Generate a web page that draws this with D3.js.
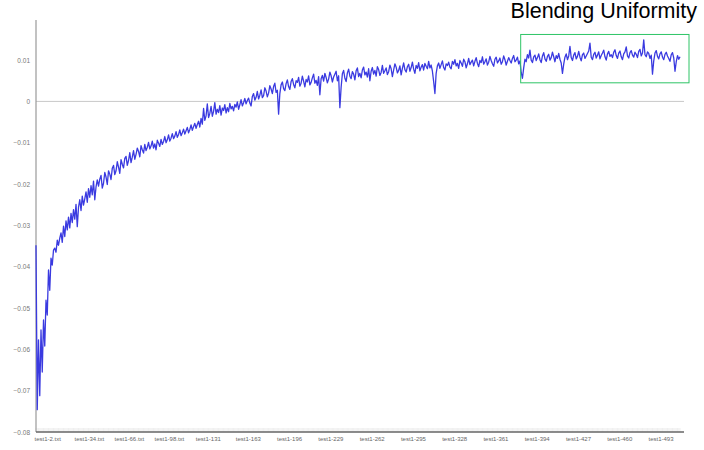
<!DOCTYPE html>
<html>
<head>
<meta charset="utf-8">
<script src="https://cdn.jsdelivr.net/npm/d3@7"></script>
<style>
body { margin:0; background:#fff; }
svg { font-family: Arial, "Liberation Sans", sans-serif; }
</style>
</head>
<body>
<svg id="svg" width="704" height="450"></svg>
<script>
// blending uniformity per test file (test1-2 ... test1-517)
var uniformity = [
-0.0348,-0.0746,-0.0577,-0.0712,-0.0553,-0.0655,-0.0529,-0.0592,-0.0481,-0.0517,
-0.0408,-0.0457,-0.0379,-0.0396,-0.0360,-0.0355,-0.0365,-0.0336,-0.0348,-0.0331,
-0.0318,-0.0341,-0.0302,-0.0327,-0.0289,-0.0311,-0.0280,-0.0306,-0.0271,-0.0293,
-0.0262,-0.0285,-0.0249,-0.0303,-0.0256,-0.0238,-0.0264,-0.0229,-0.0251,-0.0236,
-0.0219,-0.0244,-0.0211,-0.0232,-0.0204,-0.0226,-0.0193,-0.0238,-0.0207,-0.0190,
-0.0205,-0.0188,-0.0179,-0.0210,-0.0198,-0.0172,-0.0183,-0.0201,-0.0168,-0.0176,
-0.0189,-0.0162,-0.0155,-0.0177,-0.0168,-0.0146,-0.0159,-0.0174,-0.0141,-0.0152,
-0.0161,-0.0138,-0.0133,-0.0155,-0.0143,-0.0124,-0.0148,-0.0135,-0.0119,-0.0140,
-0.0128,-0.0113,-0.0121,-0.0134,-0.0107,-0.0117,-0.0125,-0.0104,-0.0119,-0.0111,
-0.0099,-0.0115,-0.0108,-0.0096,-0.0113,-0.0103,-0.0117,-0.0094,-0.0101,-0.0109,
-0.0092,-0.0104,-0.0097,-0.0085,-0.0100,-0.0093,-0.0081,-0.0096,-0.0089,-0.0078,
-0.0090,-0.0084,-0.0073,-0.0087,-0.0080,-0.0069,-0.0083,-0.0076,-0.0067,-0.0079,
-0.0071,-0.0063,-0.0076,-0.0068,-0.0057,-0.0070,-0.0061,-0.0053,-0.0065,-0.0056,
-0.0048,-0.0062,-0.0041,-0.0055,-0.0017,-0.0046,-0.0035,-0.0006,-0.0039,-0.0029,
-0.0012,-0.0036,-0.0024,-0.0003,-0.0031,-0.0019,-0.0027,-0.0010,-0.0033,-0.0016,
-0.0022,-0.0008,-0.0028,-0.0015,-0.0025,-0.0005,-0.0018,-0.0012,-0.0023,-0.0007,
-0.0014,-0.0001,-0.0019,-0.0008,0.0004,-0.0011,-0.0003,0.0007,-0.0006,0.0002,
0.0008,-0.0004,-0.0011,0.0012,0.0019,0.0003,0.0010,0.0024,0.0006,0.0015,
0.0028,0.0009,0.0014,0.0033,0.0025,0.0011,0.0020,0.0038,0.0030,0.0019,
0.0036,0.0044,0.0022,0.0027,-0.0031,0.0019,0.0040,0.0047,0.0031,0.0026,
0.0043,0.0052,0.0036,0.0029,0.0048,0.0055,0.0041,0.0033,0.0050,0.0046,
0.0058,0.0037,0.0044,0.0061,0.0049,0.0035,0.0053,0.0047,0.0062,0.0040,
0.0046,0.0057,0.0066,0.0044,0.0051,0.0039,0.0060,0.0016,0.0055,0.0063,
0.0049,0.0068,0.0058,0.0045,0.0054,0.0071,0.0062,0.0047,0.0059,0.0066,
0.0073,0.0050,0.0062,-0.0015,0.0034,0.0067,0.0075,0.0056,0.0048,0.0069,
0.0078,0.0061,0.0055,0.0072,0.0066,0.0052,0.0074,0.0081,0.0060,0.0068,
0.0057,0.0076,0.0083,0.0064,0.0071,0.0059,0.0079,0.0050,0.0073,0.0082,
0.0066,0.0075,0.0061,0.0084,0.0077,0.0063,0.0070,0.0087,0.0068,0.0074,
0.0081,0.0065,0.0072,0.0088,0.0079,0.0060,0.0076,0.0091,0.0083,0.0069,
0.0075,0.0086,0.0064,0.0080,0.0093,0.0077,0.0071,0.0084,0.0090,0.0073,
0.0082,0.0095,0.0078,0.0068,0.0087,0.0080,0.0094,0.0074,0.0083,0.0089,
0.0076,0.0092,0.0085,0.0079,0.0097,0.0081,0.0088,0.0073,0.0048,0.0019,
0.0068,0.0086,0.0093,0.0080,0.0089,0.0098,0.0082,0.0076,0.0091,0.0087,
0.0095,0.0083,0.0079,0.0097,0.0090,0.0101,0.0086,0.0092,0.0080,0.0099,
0.0093,0.0085,0.0102,0.0096,0.0081,0.0091,0.0104,0.0089,0.0095,0.0100,
0.0086,0.0097,0.0106,0.0092,0.0084,0.0099,0.0094,0.0108,0.0090,0.0096,
0.0103,0.0088,0.0095,0.0109,0.0099,0.0091,0.0085,0.0102,0.0107,0.0093,
0.0098,0.0105,0.0090,0.0096,0.0110,0.0101,0.0088,0.0097,0.0106,0.0099,
0.0093,0.0104,0.0111,0.0096,0.0100,0.0107,0.0091,0.0098,0.0070,0.0056,
0.0081,0.0102,0.0096,0.0113,0.0105,0.0124,0.0100,0.0094,0.0108,0.0112,
0.0099,0.0106,0.0115,0.0101,0.0094,0.0110,0.0118,0.0103,0.0097,0.0109,
0.0114,0.0100,0.0106,0.0119,0.0108,0.0096,0.0111,0.0104,0.0116,0.0102,
0.0093,0.0068,0.0090,0.0107,0.0115,0.0101,0.0110,0.0133,0.0106,0.0099,
0.0112,0.0118,0.0103,0.0109,0.0121,0.0107,0.0098,0.0113,0.0117,0.0104,
0.0110,0.0116,0.0122,0.0141,0.0107,0.0101,0.0114,0.0119,0.0105,0.0112,
0.0120,0.0103,0.0111,0.0117,0.0124,0.0108,0.0100,0.0115,0.0121,0.0109,
0.0113,0.0106,0.0119,0.0125,0.0111,0.0104,0.0117,0.0122,0.0108,0.0101,
0.0115,0.0120,0.0132,0.0110,0.0105,0.0118,0.0123,0.0112,0.0107,0.0119,
0.0114,0.0106,0.0121,0.0126,0.0110,0.0117,0.0149,0.0113,0.0108,0.0120,
0.0116,0.0104,0.0112,0.0066,0.0098,0.0117,0.0123,0.0109,0.0103,0.0115,
0.0120,0.0107,0.0101,0.0114,0.0119,0.0110,0.0104,0.0097,0.0113,0.0118,
0.0105,0.0073,0.0096,0.0111,0.0102,0.0108
];
var files = uniformity.map(function(d,i){ return "test1-" + (i+2); });
var xTickFiles = ["test1-2","test1-34","test1-66","test1-98","test1-131","test1-163","test1-196","test1-229",
  "test1-262","test1-295","test1-328","test1-361","test1-394","test1-427","test1-460","test1-493"];
var xTickLabels = ["test1-2.txt","test1-34.txt","test1-66.txt","test1-98.txt","test1-131","test1-163","test1-196","test1-229",
  "test1-262","test1-295","test1-328","test1-361","test1-394","test1-427","test1-460","test1-493"];
var yTicks = [0.01,0,-0.01,-0.02,-0.03,-0.04,-0.05,-0.06,-0.07,-0.08];
var highlightFrom = "test1-396", highlightTo = "test1-517";

var svg = d3.select("#svg");
var mLeft = 36, mRight = 684, mTop = 20, mBottom = 432;

var x = d3.scalePoint().domain(files).range([mLeft, 680]);
var y = d3.scaleLinear().domain([-0.08, 0.0197]).range([mBottom, mTop]);

// zero line
svg.append("line")
 .attr("x1", mLeft).attr("x2", mRight)
 .attr("y1", y(0)).attr("y2", y(0))
 .style("stroke", "#c8c8c8").style("stroke-width", 1);

// faint per-point ticks on bottom axis
svg.append("g")
 .selectAll("line").data(files).enter().append("line")
 .attr("x1", function(d){ return x(d); }).attr("x2", function(d){ return x(d); })
 .attr("y1", mBottom - 4).attr("y2", mBottom)
 .style("stroke", "#e4e4e4").style("stroke-width", 0.6);

// y axis
var yAxis = svg.append("g")
 .attr("transform", "translate(" + mLeft + ",0)")
 .call(d3.axisLeft(y).tickValues(yTicks).tickSize(0).tickPadding(6)
   .tickFormat(function(d){ return d === 0 ? "0" : d3.format(".2f")(d); }));
yAxis.select(".domain").style("stroke", "#999").style("stroke-width", 1.2)
 .attr("d", "M0," + mTop + "V" + mBottom);
yAxis.selectAll("text").style("font-size", "6.5px").style("fill", "#777");

// x axis
var xAxis = svg.append("g")
 .attr("transform", "translate(0," + mBottom + ")")
 .call(d3.axisBottom(x).tickValues(xTickFiles).tickSize(0).tickPadding(5)
   .tickFormat(function(d){ return xTickLabels[xTickFiles.indexOf(d)]; }));
xAxis.select(".domain").style("stroke", "#666").style("stroke-width", 1.5)
 .attr("d", "M" + mLeft + ",0H" + mRight);
xAxis.selectAll("text").style("font-size", "6px").style("fill", "#666")
 .attr("text-anchor", "start").attr("dx", "-2");

// data line
var line = d3.line()
 .x(function(d,i){ return x(files[i]); })
 .y(function(d){ return y(d); });
svg.append("path")
 .datum(uniformity)
 .attr("d", line)
 .style("fill", "none")
 .style("stroke", "#3a3ae0")
 .style("stroke-width", 1.3)
 .style("stroke-linejoin", "round");

// highlight box over the last plateau
svg.append("rect")
 .attr("x", x(highlightFrom) - 8)
 .attr("y", y(0.0162))
 .attr("width", x(highlightTo) - x(highlightFrom) + 17)
 .attr("height", y(0.0045) - y(0.0162))
 .style("fill", "none")
 .style("stroke", "#2ec466")
 .style("stroke-width", 1);

// title
svg.append("text")
 .attr("x", 697).attr("y", 18)
 .attr("text-anchor", "end")
 .style("font-size", "21.5px")
 .style("fill", "#000")
 .text("Blending Uniformity");
</script>
</body>
</html>
